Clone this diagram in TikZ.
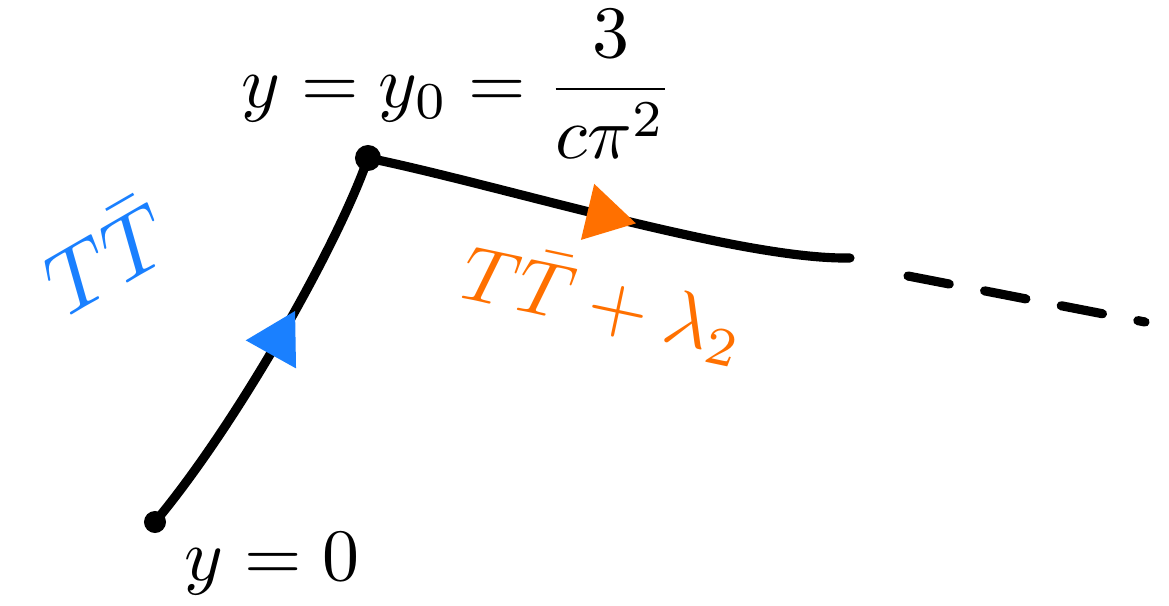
\documentclass[tikz,border=0pt]{standalone}
\usepackage{amsmath}
\usepackage{xcolor}
\usetikzlibrary{arrows.meta,decorations.markings}
\definecolor{flowblue}{HTML}{1A80FF}
\definecolor{floworange}{HTML}{FF7000}

\tikzset{
  flowline/.style={line width=2.6pt, line cap=round},
  flowdot/.style={circle, fill=black, inner sep=0, minimum size=0.22cm},
  biglabel/.style={scale=2.1},
  midarrow/.style 2 args={postaction={decorate, decoration={markings,
    mark=at position #1 with {\arrow[#2]{Triangle[length=0.5cm,width=0.55cm]}}}}}
}

\begin{document}
\begin{tikzpicture}[x=0.01cm, y=-0.01cm]
    \useasboundingbox (0,0) rectangle (1169,606);

    % fixed points
    \node[flowdot] (start) at (155,522) {};
    \node[flowdot, minimum size=0.26cm] (fixed) at (368,158) {};
    \coordinate (bend) at (850,258);
    \coordinate (dashstart) at (908,276);
    \coordinate (tail) at (1145,322);

    % flows
    \draw[flowline, midarrow={0.6}{flowblue}] (start.center) .. controls (240,420) and (340,240) .. (fixed.center);
    \draw[flowline, midarrow={0.56}{floworange}] (fixed.center) .. controls (500,185) and (740,260) .. (bend);
    \draw[flowline, dash pattern=on 0.42cm off 0.36cm] (dashstart) -- (tail);

    % labels
    \node[biglabel] (fixedlabel) at (458,84) {$y=y_0=\dfrac{3}{c\pi^2}$};
    \node[biglabel] (startlabel) at (272,564) {$y=0$};
    \node[biglabel, scale=1.2, text=flowblue, rotate=30] (bluelabel) at (105,254) {$T\bar{T}$};
    \node[biglabel, scale=1.05, text=floworange, rotate=-12] (orangelabel) at (604,302) {$T\bar{T}+\lambda_2$};
\end{tikzpicture}
\end{document}
